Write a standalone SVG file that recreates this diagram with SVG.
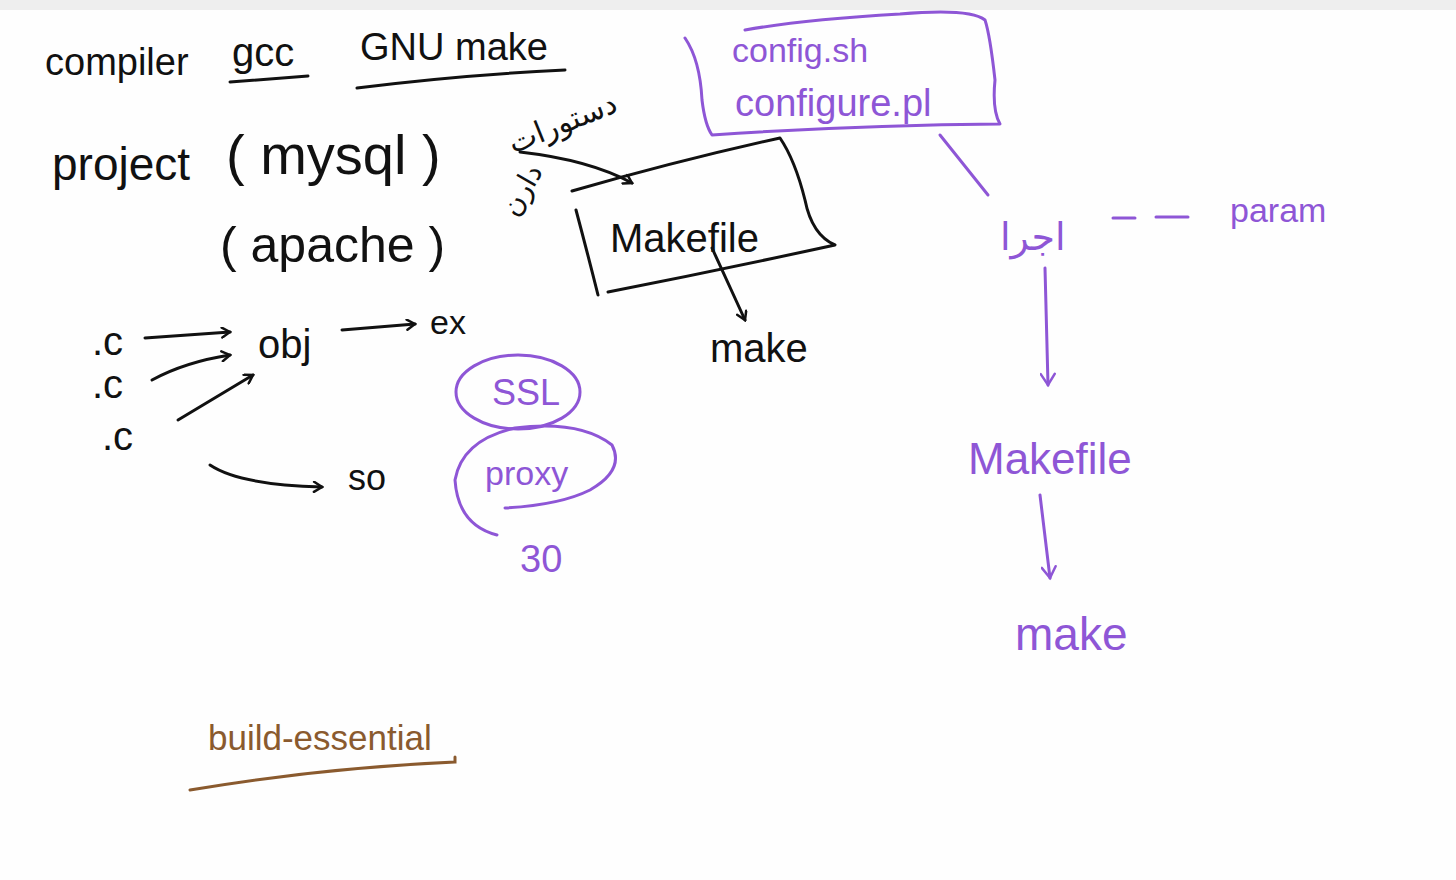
<svg xmlns="http://www.w3.org/2000/svg" width="1456" height="880" viewBox="0 0 1456 880">
<style>
.t{font-family:"Liberation Sans","DejaVu Sans",sans-serif;fill:#111}
.fa{font-family:"DejaVu Sans","Noto Sans",sans-serif;fill:#111}
.p{fill:#8e56d6}
.b{fill:#8a5a2e}
.sk{fill:none;stroke:#111;stroke-width:3;stroke-linecap:round;stroke-linejoin:round}
.sp{fill:none;stroke:#8e56d6;stroke-width:3;stroke-linecap:round;stroke-linejoin:round}
.sb{fill:none;stroke:#8a5a2e;stroke-width:3;stroke-linecap:round}
</style>
<defs>
<marker id="ak" markerWidth="12" markerHeight="12" refX="10" refY="6" orient="auto" markerUnits="userSpaceOnUse"><path d="M2,1 L10,6 L2,11" fill="none" stroke="#111" stroke-width="2.5" stroke-linecap="round"/></marker>
<marker id="ap" markerWidth="16" markerHeight="16" refX="13" refY="8" orient="auto" markerUnits="userSpaceOnUse"><path d="M2,1 L13,8 L2,15" fill="none" stroke="#8e56d6" stroke-width="2.5" stroke-linecap="round"/></marker>
</defs>
<rect x="0" y="0" width="1456" height="880" fill="#fefefe"/>
<rect x="0" y="0" width="1456" height="10" fill="#eeeeee"/>

<g id="compiler"><text class="t" x="45" y="75" font-size="38">compiler</text></g>
<g id="gcc"><text class="t" x="232" y="66" font-size="40">gcc</text><path class="sk" d="M230,82 L308,76"/></g>
<g id="gnumake"><text class="t" x="360" y="60" font-size="38">GNU make</text><path class="sk" d="M357,88 Q460,75 565,70"/></g>
<g id="project"><text class="t" x="52" y="180" font-size="46">project</text></g>
<g id="mysql"><text class="t" x="226" y="174" font-size="56" xml:space="preserve">( mysql )</text></g>
<g id="apache"><text class="t" x="220" y="262" font-size="50" xml:space="preserve">( apache )</text></g>

<g id="persian-notes">
<text class="fa" x="500" y="135" font-size="30" transform="rotate(-22 555 110)">دستورات</text>
<text class="fa" x="492" y="200" font-size="28" transform="rotate(-60 520 188)">دارن</text>
</g>

<g id="makefile-box">
<path class="sk" d="M572,191 Q680,160 780,138 Q795,160 805,200 Q812,235 835,245 Q720,270 608,292"/>
<path class="sk" d="M576,210 Q588,255 598,295"/>
<text class="t" x="610" y="252" font-size="40">Makefile</text>
</g>
<g id="make1"><text class="t" x="710" y="362" font-size="40">make</text></g>

<g id="config-box">
<path class="sp" d="M685,38 Q700,60 702,100 Q705,125 712,135 Q860,125 1000,124 Q992,110 995,80 Q990,35 985,20 Q970,8 900,14 Q800,20 745,30"/>
<text class="t p" x="732" y="62" font-size="34">config.sh</text>
<text class="t p" x="735" y="116" font-size="38">configure.pl</text>
</g>

<g id="run"><text class="fa p" x="1000" y="250" font-size="38">اجرا</text></g>
<g id="param"><text class="t p" x="1230" y="222" font-size="34">param</text></g>
<g id="makefile2"><text class="t p" x="968" y="474" font-size="44">Makefile</text></g>
<g id="make2"><text class="t p" x="1015" y="650" font-size="46">make</text></g>

<g id="c-files">
<text class="t" x="92" y="355" font-size="40">.c</text>
<text class="t" x="92" y="398" font-size="40">.c</text>
<text class="t" x="102" y="450" font-size="40">.c</text>
</g>
<g id="obj"><text class="t" x="258" y="358" font-size="40">obj</text></g>
<g id="exe"><text class="t" x="430" y="334" font-size="34">ex</text></g>
<g id="so"><text class="t" x="348" y="490" font-size="36">so</text></g>

<g id="ssl"><ellipse class="sp" cx="518" cy="392" rx="62" ry="37"/><text class="t p" x="492" y="405" font-size="36">SSL</text></g>
<g id="proxy"><path class="sp" d="M515,428 Q580,420 612,445 Q625,470 590,490 Q560,505 505,508 M515,428 Q462,440 455,480 Q458,525 497,535"/><text class="t p" x="485" y="485" font-size="34">proxy</text></g>
<g id="thirty"><text class="t p" x="520" y="572" font-size="38">30</text></g>

<g id="build-essential"><text class="t b" x="208" y="750" font-size="35">build-essential</text><path class="sb" d="M190,790 Q320,768 455,762 L455,757"/></g>

<g id="connectors">
<path class="sk" d="M520,152 Q590,160 632,183" marker-end="url(#ak)"/>
<path class="sk" d="M712,248 L745,320" marker-end="url(#ak)"/>
<path class="sk" d="M145,338 L230,332" marker-end="url(#ak)"/>
<path class="sk" d="M152,380 Q185,362 230,355" marker-end="url(#ak)"/>
<path class="sk" d="M178,420 L253,375" marker-end="url(#ak)"/>
<path class="sk" d="M342,330 L415,324" marker-end="url(#ak)"/>
<path class="sk" d="M210,465 Q240,485 322,487" marker-end="url(#ak)"/>
<path class="sp" d="M940,135 L988,195"/>
<path class="sp" d="M1113,218 L1135,218 M1156,217 L1188,217"/>
<path class="sp" d="M1045,268 L1048,385" marker-end="url(#ap)"/>
<path class="sp" d="M1040,495 L1050,578" marker-end="url(#ap)"/>
</g>
</svg>
